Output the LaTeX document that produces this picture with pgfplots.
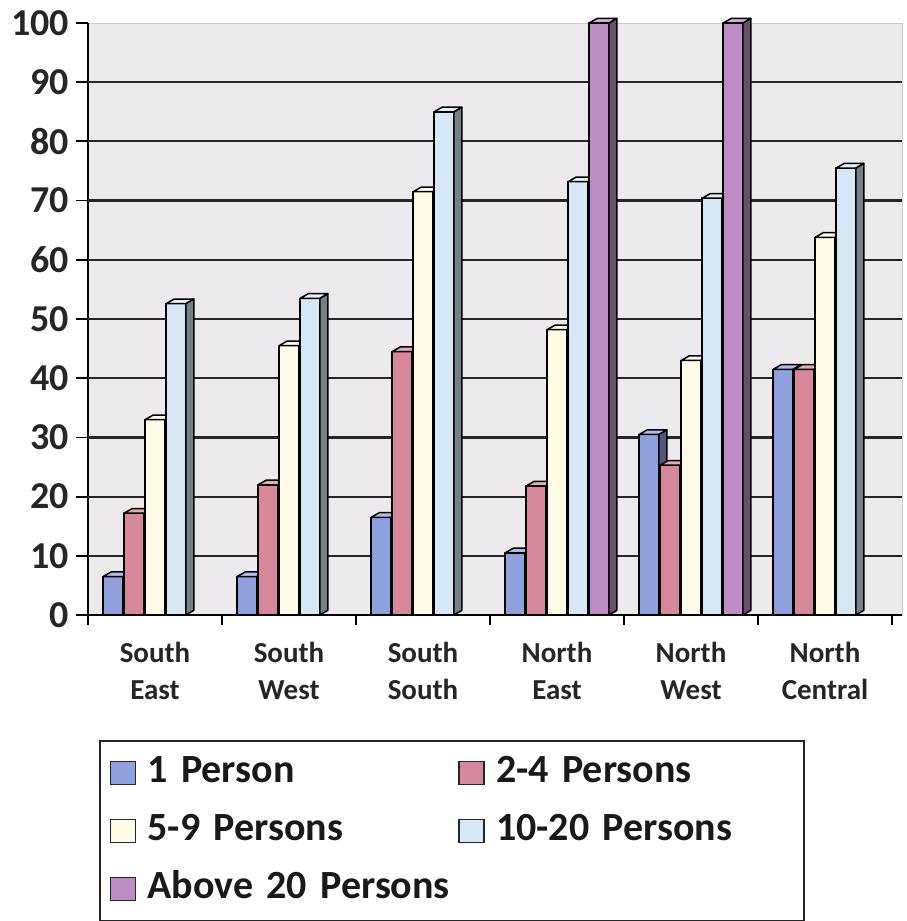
\documentclass[border=0pt]{standalone}
\usepackage{fontspec}
\setmainfont{Carlito}
\usepackage{pgfplots}
\pgfplotsset{compat=1.18}
\usepackage{pgfplotstable}

\definecolor{cOne}{RGB}{143,160,220}
\definecolor{cTwo}{RGB}{214,135,153}
\definecolor{cFive}{RGB}{255,251,230}
\definecolor{cTen}{RGB}{214,232,246}
\definecolor{cAbove}{RGB}{190,140,196}
\definecolor{wall}{RGB}{236,234,237}

% household size shares by zone (0 = South East ... 5 = North Central)
\pgfplotstableread{
idx val
0 6.5
1 6.5
2 16.5
3 10.5
4 30.5
5 41.5
}\tabOne
\pgfplotstableread{
idx val
0 17.2
1 22
2 44.5
3 21.8
4 25.3
5 41.5
}\tabTwo
\pgfplotstableread{
idx val
0 33
1 45.5
2 71.5
3 48.2
4 43
5 63.8
}\tabFive
\pgfplotstableread{
idx val
0 52.6
1 53.5
2 85
3 73.2
4 70.4
5 75.5
}\tabTen
\pgfplotstableread{
idx val
3 100
4 100
}\tabAbove

% geometry of the pseudo-3D bars (pt)
\newcommand\yunit{2.96}
\newcommand\halfw{4.9}
\newcommand\dx{4}
\newcommand\dy{2.3}

% a bar drawn from its top centre down to the zero line
\newcommand\drawbarthree[1]{%
  \pgfmathsetmacro\hh{\barh*\yunit}%
  \path[fill=#1, draw=black, line width=0.75pt, line join=round]
     (-\halfw pt,-\hh pt) rectangle (\halfw pt,0pt);
  \path[fill=#1!55!black, draw=black, line width=0.75pt, line join=round]
     (\halfw pt,-\hh pt) -- (\halfw pt+\dx pt,-\hh pt+\dy pt)
     -- (\halfw pt+\dx pt,\dy pt) -- (\halfw pt,0pt) -- cycle;
  \path[fill=#1!70!white, draw=black, line width=0.75pt, line join=round]
     (-\halfw pt,0pt) -- (-\halfw pt+\dx pt,\dy pt)
     -- (\halfw pt+\dx pt,\dy pt) -- (\halfw pt,0pt) -- cycle;
}
\newcommand\declarebarmark[1]{\pgfdeclareplotmark{bar3d#1}{\drawbarthree{#1}}}
\declarebarmark{cOne}
\declarebarmark{cTwo}
\declarebarmark{cFive}
\declarebarmark{cTen}
\declarebarmark{cAbove}

\pgfplotsset{
  barseries/.style={
    only marks, mark=bar3d#1,
    visualization depends on={\thisrow{val} \as \barh},
    legend image code/.code={
      \draw[fill=#1, draw=black!85, line width=0.8pt] (0pt,-5.75pt) rectangle (12.5pt,5.75pt);
    },
  },
}

\begin{document}
\begin{tikzpicture}
\begin{axis}[
  x=67pt, y=2.96pt,
  xmin=-0.5, xmax=5.575, ymin=0, ymax=100,
  clip=false,
  axis lines*=left,
  axis line style={black, line width=0.9pt, -},
  axis background/.style={fill=wall, draw=black!20},
  xtick={0,...,5},
  xticklabels={South\\East, South\\West, South\\South, North\\East, North\\West, North\\Central},
  xticklabel style={align=center, font=\bfseries\fontsize{14.5}{18.5}\selectfont, text=black!85, yshift=-4pt},
  major x tick style={draw=none},
  minor xtick={-0.5,0.5,...,5.5},
  minor x tick style={black, line width=0.9pt},
  minor tick length=5pt,
  ytick={0,10,...,100},
  major tick length=6pt,
  tick align=outside,
  ytick style={black, line width=0.9pt},
  yticklabel style={font=\bfseries\fontsize{19}{22}\selectfont, text=black!85},
  /pgf/number format/assume math mode=true,
  extra y ticks={10,20,...,90},
  extra y tick labels={},
  extra y tick style={ymajorgrids=true, major tick length=0pt},
  major grid style={black!85, line width=1.1pt},
  legend columns=2,
  legend cell align=left,
  legend style={
    at={(axis description cs:0.0135,-0.211)}, anchor=north west,
    draw=black!85, line width=0.9pt,
    font=\bfseries\fontsize{20}{24}\selectfont, text=black!90,
    inner xsep=5pt, inner ysep=5pt,
    row sep=7pt,
    nodes={inner sep=1pt, text width=148pt, align=left, text height=15pt, text depth=5pt},
    /tikz/every odd column/.append style={column sep=4.5pt},
    /tikz/every even column/.append style={column sep=6.5pt},
  },
]
\addplot[barseries=cOne] table[x expr=\thisrow{idx}-0.3134, y=val] {\tabOne};
\addlegendentry{\mbox{1 Person}}
\addplot[barseries=cTwo] table[x expr=\thisrow{idx}-0.1567, y=val] {\tabTwo};
\addlegendentry{\mbox{2-4 Persons}}
\addplot[barseries=cFive] table[x expr=\thisrow{idx}, y=val] {\tabFive};
\addlegendentry{\mbox{5-9 Persons}}
\addplot[barseries=cTen] table[x expr=\thisrow{idx}+0.1567, y=val] {\tabTen};
\addlegendentry{\mbox{10-20 Persons}}
\addplot[barseries=cAbove] table[x expr=\thisrow{idx}+0.3134, y=val] {\tabAbove};
\addlegendentry{\mbox{Above 20 Persons}}
\end{axis}
\pgfresetboundingbox
\path[use as bounding box]
  ([shift={(-44pt,-153pt)}]current axis.south west)
  rectangle ([shift={(409pt,307.5pt)}]current axis.south west);
\end{tikzpicture}
\end{document}
